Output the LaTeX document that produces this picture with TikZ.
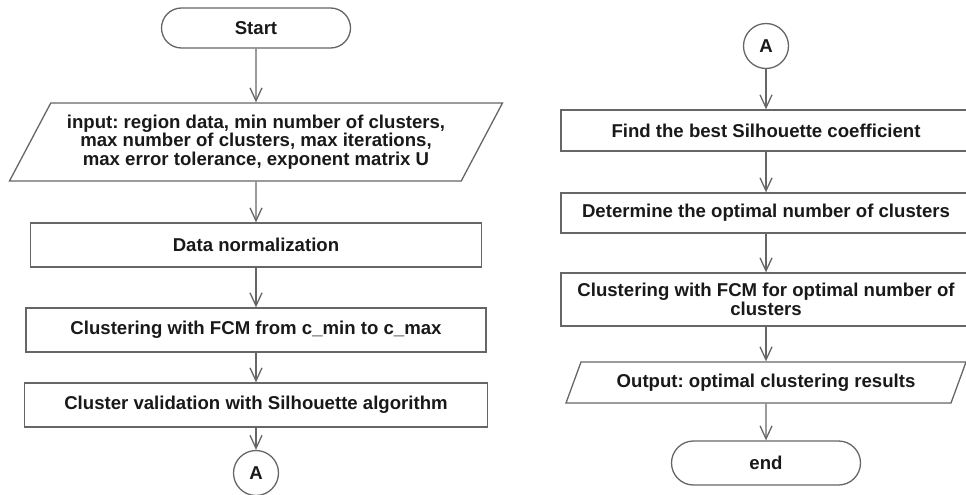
\documentclass[tikz,border=0pt]{standalone}
\usepackage{fontspec}
\setmainfont{Liberation Sans}
\frenchspacing
\usetikzlibrary{arrows.meta,shapes.misc,shapes.geometric}

\begin{document}
\begin{tikzpicture}[
        x=1pt, y=-1pt,
        >={Straight Barb[length=13pt,width=12pt]},
        font=\fontsize{18.6}{18.8}\selectfont\bfseries,
        every node/.style={align=center, text=black!90},
        line/.style={draw=black!60, line width=1.3pt},
        termbox/.style={line, rounded rectangle, minimum width=189, minimum height=40, inner sep=0pt},
        procbox/.style={line, rectangle, minimum height=44, inner sep=0pt},
        iobox/.style={line, trapezium, trapezium left angle=55, trapezium right angle=125,
            trapezium stretches body, inner sep=2pt},
        connbox/.style={line, circle, minimum size=45, inner sep=0pt},
        flow/.style={->, draw=black!60, line width=1.3pt}
    ]

        \useasboundingbox (0,0) rectangle (966,495);

        % --- Koordinaten ---
        % X-Positionen der Spalten
        \def\leftx{256}
        \def\rightx{766}

        % --- LINKE SPALTE ---
        \node[termbox] (start) at (\leftx, 28) {Start};
        \node[iobox, minimum width=493, minimum height=78] (input) at (\leftx, 142)
            {input: region data, min number of clusters,\\
             max number of clusters, max iterations,\\
             max error tolerance, exponent matrix U};
        \node[procbox, minimum width=451] (norm) at (\leftx, 245) {Data normalization};
        \node[procbox, minimum width=460] (fcm) at (\leftx, 330) {Clustering with FCM from c\_min to c\_max};
        \node[procbox, minimum width=463] (valid) at (\leftx, 405) {Cluster validation with Silhouette algorithm};
        \node[connbox] (connA) at (\leftx, 473) {A};

        % --- RECHTE SPALTE ---
        \node[connbox] (connB) at (\rightx, 46) {A};
        \node[procbox, minimum width=410, minimum height=41] (best) at (\rightx, 130.5) {Find the best Silhouette coefficient};
        \node[procbox, minimum width=410, minimum height=40] (optnum) at (\rightx, 213) {Determine the optimal number of clusters};
        \node[procbox, minimum width=410, minimum height=53] (fcmopt) at (\rightx, 299.5)
            {Clustering with FCM for optimal number of\\ clusters};
        \node[iobox, minimum width=400, minimum height=41] (output) at (\rightx, 382.5) {Output: optimal clustering results};
        \node[termbox, minimum height=44] (end) at (\rightx, 463) {end};

        % --- PFEILE ---
        \draw[flow] (start) -- (input);
        \draw[flow] (input) -- (norm);
        \draw[flow] (norm) -- (fcm);
        \draw[flow] (fcm) -- (valid);
        \draw[flow] (valid) -- (connA);

        \draw[flow] (connB) -- (best);
        \draw[flow] (best) -- (optnum);
        \draw[flow] (optnum) -- (fcmopt);
        \draw[flow] (fcmopt) -- (output);
        \draw[flow] (output) -- (end);

    \end{tikzpicture}
\end{document}
